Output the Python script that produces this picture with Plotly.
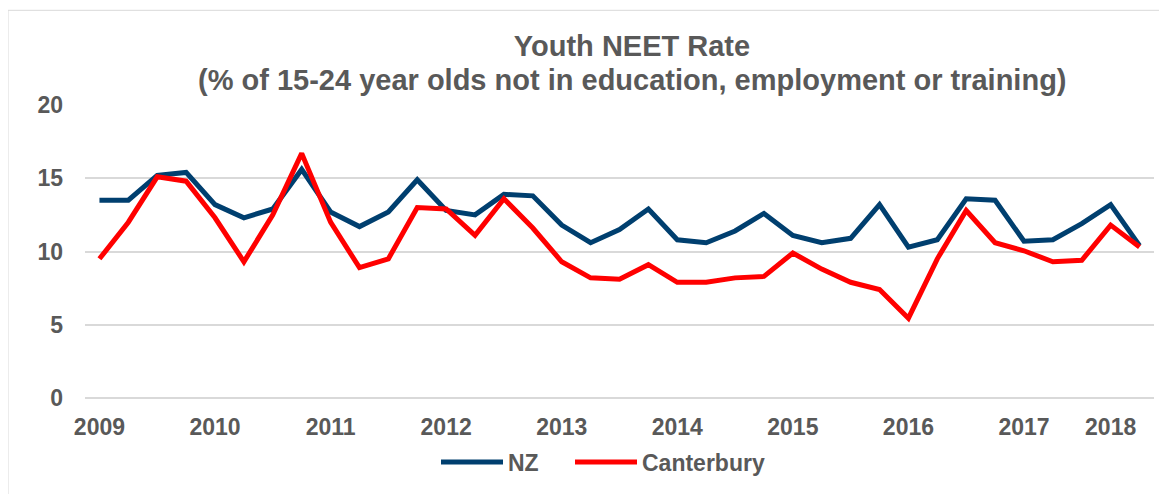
import plotly.graph_objects as go

quarters = [f"{y} Q{q}" for y in range(2009, 2019) for q in range(1, 5)][:37]
nz = [13.5, 13.5, 15.2, 15.4, 13.2, 12.3, 12.9, 15.6, 12.7, 11.7, 12.7, 14.9,
      12.8, 12.5, 13.9, 13.8, 11.8, 10.6, 11.5, 12.9, 10.8, 10.6, 11.4, 12.6,
      11.1, 10.6, 10.9, 13.2, 10.3, 10.8, 13.6, 13.5, 10.7, 10.8, 11.9, 13.2, 10.4]
canterbury = [9.5, 12.0, 15.1, 14.8, 12.3, 9.3, 12.5, 16.7, 12.0, 8.9, 9.5, 13.0,
              12.9, 11.1, 13.6, 11.6, 9.3, 8.2, 8.1, 9.1, 7.9, 7.9, 8.2, 8.3,
              9.9, 8.8, 7.9, 7.4, 5.45, 9.5, 12.8, 10.6, 10.05, 9.3, 9.4, 11.8, 10.3]
year_tick_pos = [0, 4, 8, 12, 16, 20, 24, 28, 32, 35]
year_tick_text = ["2009", "2010", "2011", "2012", "2013", "2014", "2015", "2016", "2017", "2018"]
y_ticks = [0, 5, 10, 15, 20]
title_line1 = "Youth NEET Rate"
title_line2 = "(% of 15-24 year olds not in education, employment or training)"

idx = list(range(len(quarters)))
GRAY = "#595959"
FONT = "Liberation Sans, Arial, sans-serif"

W, H = 1159, 486
L, R, T, B = 77, 13, 97, 95
PW, PH = W - L - R, H - T - B

fig = go.Figure()
fig.add_trace(go.Scatter(x=idx, y=nz, mode="lines", name="NZ", text=quarters,
                         line=dict(color="#003F6F", width=5), legend="legend"))
fig.add_trace(go.Scatter(x=idx, y=canterbury, mode="lines", name="Canterbury", text=quarters,
                         line=dict(color="#FF0000", width=5), legend="legend2"))

legend_common = dict(orientation="h", xanchor="left", yanchor="middle",
                     font=dict(family=FONT, size=23, color=GRAY, weight="bold"),
                     itemwidth=62, bgcolor="rgba(0,0,0,0)")
leg_y = (H - B - 454) / PH

fig.update_layout(
    width=W, height=H,
    margin=dict(l=L, r=R, t=T, b=B),
    paper_bgcolor="white", plot_bgcolor="white",
    font=dict(family=FONT, color=GRAY),
    title=dict(text=title_line1,
               x=624 / W, xanchor="center", xref="container",
               y=1 - 28 / H, yanchor="top", yref="container",
               font=dict(family=FONT, size=29, color=GRAY, weight="bold")),
    annotations=[dict(text=title_line2, xref="paper", yref="paper",
                      x=(624 - L) / PW, y=(H - B - 72) / PH, xanchor="center", yanchor="middle",
                      showarrow=False,
                      font=dict(family=FONT, size=29, color=GRAY, weight="bold"))],
    xaxis=dict(range=[-0.5, 36.5], tickvals=year_tick_pos, ticktext=year_tick_text,
               showgrid=False, zeroline=False, showline=False, ticks="",
               tickfont=dict(family=FONT, size=23, color=GRAY, weight="bold"),
               ticklabelstandoff=13),
    yaxis=dict(range=[0, 20], tickvals=y_ticks, showgrid=True, gridcolor="#D9D9D9",
               gridwidth=1.5, zeroline=True, zerolinecolor="#D9D9D9", zerolinewidth=1.5,
               showline=False, ticks="",
               tickfont=dict(family=FONT, size=23, color=GRAY, weight="bold"),
               ticklabelstandoff=21),
    legend=dict(legend_common, x=(428 - L) / PW, y=leg_y),
    legend2=dict(legend_common, x=(562 - L) / PW, y=leg_y),
    showlegend=True,
    shapes=[dict(type="rect", xref="paper", yref="paper",
                 x0=(0 - L) / PW, x1=(W + 10 - L) / PW,
                 y0=(H - B - (H + 20)) / PH, y1=(H - B - 2) / PH,
                 line=dict(color="#D9D9D9", width=1), fillcolor="rgba(0,0,0,0)", layer="below")],
)

fig.write_html("out.html")
